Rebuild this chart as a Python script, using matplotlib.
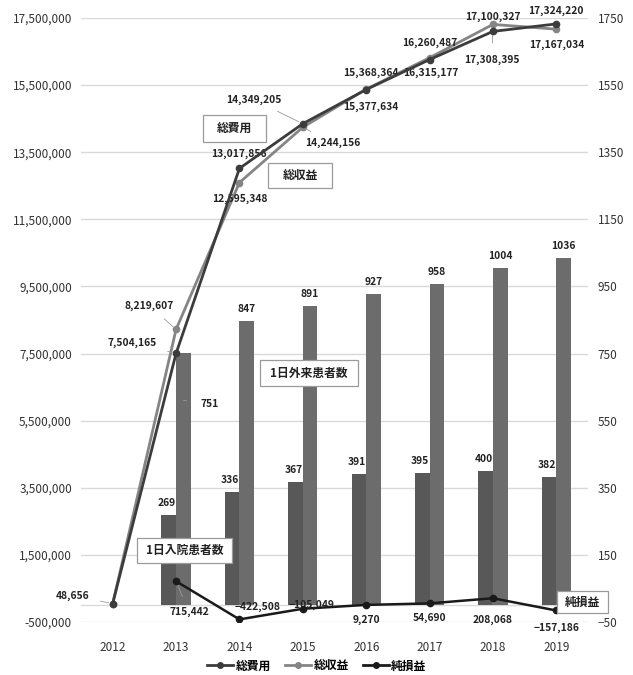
import numpy as np
import matplotlib as mpl
mpl.use("Agg")
import matplotlib.pyplot as plt
from matplotlib.lines import Line2D
from matplotlib.patches import Rectangle

plt.rcParams["font.family"] = ["Noto Sans CJK JP", "DejaVu Sans"]

years = ["2012", "2013", "2014", "2015", "2016", "2017", "2018", "2019"]
total_cost = [48656, 7504165, 13017856, 14349205, 15368364, 16260487, 17100327, 17324220]
total_revenue = [48656, 8219607, 12595348, 14244156, 15377634, 16315177, 17308395, 17167034]
net_income = [np.nan, 715442, -422508, -105049, 9270, 54690, 208068, -157186]
inpatients = [np.nan, 269, 336, 367, 391, 395, 400, 382]
outpatients = [np.nan, 751, 847, 891, 927, 958, 1004, 1036]

# label offsets in pixels (dx right, dy up) and whether to draw a leader line
cost_off = [(-40, 8, 1), (-44, 11, 1), (-1, 15, 0), (-49, 24, 1), (5, 17, 0), (0, 17, 0), (0, 15, 0), (0, 13, 0)]
rev_off = [None, (-27, 24, 1), (0, -16, 0), (30, -16, 1), (5, -18, 0), (1, -15, 0), (-1, -35, 1), (0, -16, 0)]
net_off = [None, (13, -31, 1), (18, 13, 0), (9, 4, 0), (0, -15, 0), (0, -14, 0), (0, -22, 1), (0, -17, 0)]

W, H = 633, 675
C_COST, C_REV, C_NET = "#3c3c3c", "#858585", "#1a1a1a"
C_IN, C_OUT = "#585858", "#6c6c6c"
GRID = "#d9d9d9"
PX = 0.72  # points per pixel at dpi 100

fig = plt.figure(figsize=(W / 100, H / 100), dpi=100)
ax = fig.add_axes([81 / W, 1 - 622 / H, 507 / W, 604 / H])
ax2 = ax.twinx()
ax.set_zorder(ax2.get_zorder() + 1)
ax.patch.set_visible(False)

x = np.arange(len(years))
bw = 0.23

# bars (right axis)
ax2.bar(x - bw / 2, inpatients, bw, color=C_IN, zorder=2)
ax2.bar(x + bw / 2, outpatients, bw, color=C_OUT, zorder=2)
ax2.set_ylim(-50, 1750)
ax2.set_yticks(np.arange(-50, 1751, 200))
ax2.yaxis.grid(True, color=GRID, lw=1.0)
ax2.set_axisbelow(True)
ax2.axhline(0, color=GRID, lw=1.0, zorder=1)

lab = dict(fontsize=7.4, color="#222222", ha="center", va="center", fontweight="bold")
for i in range(1, len(years)):
    ax2.annotate(f"{inpatients[i]:.0f}", (x[i] - bw / 2, inpatients[i]),
                 xytext=(-2 * PX, 12 * PX), textcoords="offset points", **lab)
    if i == 1:
        ax2.annotate(f"{outpatients[i]:.0f}", (x[i] + bw / 2, outpatients[i] - 140),
                     xytext=(26 * PX, -4 * PX), textcoords="offset points",
                     arrowprops=dict(arrowstyle="-", color="#999999", lw=0.6,
                                     shrinkA=8, shrinkB=0), **lab)
    else:
        ax2.annotate(f"{outpatients[i]:.0f}", (x[i] + bw / 2, outpatients[i]),
                     xytext=(0, 12 * PX), textcoords="offset points", **lab)

# lines (left axis)
ax.plot(x, total_revenue, color=C_REV, lw=2.0, marker="o", ms=4.5, zorder=3)
ax.plot(x, total_cost, color=C_COST, lw=2.0, marker="o", ms=4.5, zorder=4)
ax.plot(x, net_income, color=C_NET, lw=1.8, marker="o", ms=4.5, zorder=4)
ax.set_ylim(-500000, 17500000)
ax.set_yticks(np.arange(-500000, 17500001, 2000000))
ax.yaxis.set_major_formatter(mpl.ticker.FuncFormatter(lambda v, p: f"{v:,.0f}"))
ax.set_xlim(-0.5, len(years) - 0.5)
ax.set_xticks(x, years)


def fmt(v):
    return f"{v:,.0f}".replace("-", "\u2212")


def put_labels(vals, offs):
    for i, v in enumerate(vals):
        if offs[i] is None or np.isnan(v):
            continue
        dx, dy, lead = offs[i]
        kw = dict(lab)
        if lead:
            kw["arrowprops"] = dict(arrowstyle="-", color="#999999", lw=0.6,
                                    shrinkA=6, shrinkB=3)
        ax.annotate(fmt(v), (x[i], v), xytext=(dx * PX, dy * PX),
                    textcoords="offset points", **kw)


put_labels(total_cost, cost_off)
put_labels(total_revenue, rev_off)
put_labels(net_income, net_off)

for a in (ax, ax2):
    for s in a.spines.values():
        s.set_visible(False)
ax.tick_params(axis="y", length=0, pad=6.5, labelsize=8.5, labelcolor="#333333")
ax2.tick_params(axis="y", length=0, pad=7, labelsize=8.5, labelcolor="#333333")
ax.tick_params(axis="x", length=0, pad=14, labelsize=8.5, labelcolor="#333333")

# series name boxes
boxes = [("総費用", 203, 115, 266, 142), ("総収益", 268, 163, 332, 188),
         ("1日外来患者数", 260, 360, 358, 386), ("1日入院患者数", 137, 538, 232, 563),
         ("純損益", 557, 591, 608, 613)]
for txt, x0, y0, x1, y1 in boxes:
    fig.add_artist(Rectangle((x0 / W, 1 - y1 / H), (x1 - x0) / W, (y1 - y0) / H,
                             transform=fig.transFigure, fc="white", ec="#9a9a9a",
                             lw=0.9, zorder=5))
    fig.text((x0 + x1) / 2 / W, 1 - (y0 + y1) / 2 / H, txt, fontsize=8.5,
             fontweight="bold", ha="center", va="center", color="#222222", zorder=6)

handles = [Line2D([], [], color=c, lw=2, marker="o", ms=4) for c in (C_COST, C_REV, C_NET)]
fig.legend(handles, ["総費用", "総収益", "純損益"], loc="center", ncol=3,
           bbox_to_anchor=(317 / W, 1 - 666 / H), frameon=False,
           handlelength=2.2, handletextpad=0.2, columnspacing=1.2,
           prop=dict(weight="bold", size=8.5))

fig.savefig("out.png", dpi=100)
